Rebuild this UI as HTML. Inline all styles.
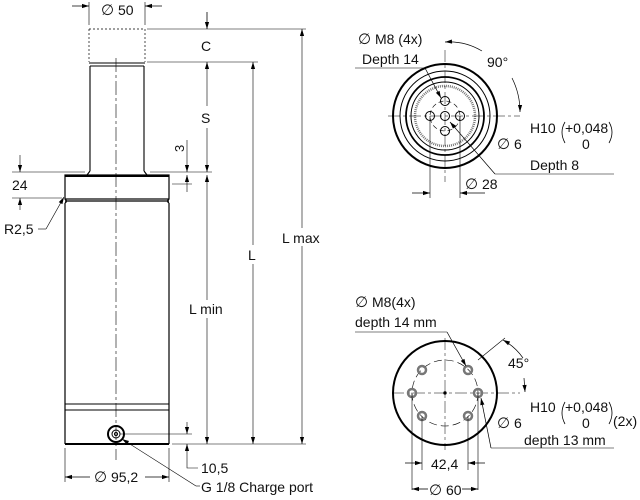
<!DOCTYPE html>
<html><head><style>html,body{margin:0;padding:0;background:#fff}svg{display:block}.d{font-family:"DejaVu Sans",sans-serif;font-size:15px}</style></head><body>
<svg width="640" height="500" viewBox="0 0 640 500" xmlns="http://www.w3.org/2000/svg" font-family="Liberation Sans, sans-serif" font-size="13" fill="#111">
<defs><marker id="a" viewBox="0 0 10 10" refX="10" refY="5" markerWidth="9" markerHeight="7" orient="auto-start-reverse" markerUnits="userSpaceOnUse"><path d="M0,2 L10,5 L0,8z" fill="#000"/></marker></defs>
<g stroke="#000" fill="none" stroke-width="1">
<line x1="116" y1="58" x2="116" y2="460" stroke-width="0.6" stroke-dasharray="14,3,3,3"/>
<path d="M89,29 L89,62 M145,29 L145,62 M89,29 H145" stroke-dasharray="2,2" stroke-width="0.7"/>
<path d="M89,63 H145 M90,66 H144 M90,66 V171 M144,66 V171 M90,171 L87,175 M144,171 L147,175" stroke-width="1.1"/>
<rect x="65" y="175" width="104" height="24" stroke-width="1.2"/>
<line x1="65" y1="176" x2="169" y2="176" stroke-width="2"/>
<path d="M65,199 Q68,201 65,203 M169,199 Q166,201 169,203 M65,201 H169 M65,203 V444 M169,203 V444" stroke-width="1.2"/>
<path d="M65,404 H169 M65,410 H169" stroke-width="0.9"/>
<line x1="65" y1="444" x2="169" y2="444" stroke-width="2"/>
<circle cx="116" cy="434" r="8" stroke-width="2"/><circle cx="116" cy="434" r="4"/><circle cx="116" cy="434" r="1.5"/>
<path d="M89,25 V2 M145,25 V2 M147,29 H306 M147,62 H258 M150,172 H212 M172,444 H306 M172,184 H192 M65,448 V482 M169,448 V482 M120,434 H192" stroke-width="0.6"/>
<line x1="72" y1="6" x2="89" y2="6" marker-end="url(#a)" stroke-width="0.8"/>
<line x1="162" y1="6" x2="145" y2="6" marker-end="url(#a)" stroke-width="0.8"/>
<line x1="207" y1="12" x2="207" y2="29" marker-end="url(#a)" stroke-width="0.8"/>
<line x1="207" y1="62" x2="207" y2="106" marker-start="url(#a)" stroke-width="0.6"/>
<line x1="207" y1="128" x2="207" y2="172" marker-end="url(#a)" stroke-width="0.6"/>
<line x1="207" y1="175" x2="207" y2="300" marker-start="url(#a)" stroke-width="0.6"/>
<line x1="207" y1="318" x2="207" y2="444" marker-end="url(#a)" stroke-width="0.6"/>
<line x1="253" y1="62" x2="253" y2="245" marker-start="url(#a)" stroke-width="0.6"/>
<line x1="253" y1="264" x2="253" y2="444" marker-end="url(#a)" stroke-width="0.6"/>
<line x1="302" y1="29" x2="302" y2="228" marker-start="url(#a)" stroke-width="0.6"/>
<line x1="302" y1="246" x2="302" y2="444" marker-end="url(#a)" stroke-width="0.6"/>
<line x1="187" y1="140" x2="187" y2="172" marker-end="url(#a)" stroke-width="0.6"/>
<line x1="187" y1="192" x2="187" y2="175" marker-end="url(#a)" stroke-width="0.6"/>
<line x1="187" y1="422" x2="187" y2="434" marker-end="url(#a)" stroke-width="0.6"/>
<line x1="187" y1="458" x2="187" y2="444" marker-end="url(#a)" stroke-width="0.6"/>
<path d="M187,458 V468 H198" stroke-width="0.6"/>
<line x1="20" y1="155" x2="20" y2="172" marker-end="url(#a)" stroke-width="0.6"/>
<line x1="20" y1="210" x2="20" y2="198" marker-end="url(#a)" stroke-width="0.6"/>
<path d="M12,172 H85 M12,198 H62" stroke-width="0.6"/>
<path d="M38,229 H46" stroke-width="0.6"/>
<line x1="46" y1="229" x2="64" y2="197" marker-end="url(#a)" stroke-width="0.6"/>
<line x1="90" y1="477" x2="65" y2="477" marker-end="url(#a)" stroke-width="0.8"/>
<line x1="145" y1="477" x2="169" y2="477" marker-end="url(#a)" stroke-width="0.8"/>
<path d="M196,486 H200" stroke-width="0.6"/>
<line x1="196" y1="486" x2="122" y2="439" marker-end="url(#a)" stroke-width="0.6"/>
<circle cx="445" cy="116" r="52" stroke-width="2"/>
<circle cx="445" cy="116" r="45" stroke-width="1"/>
<circle cx="445" cy="116" r="39" stroke-width="1.8"/>
<circle cx="445" cy="116" r="34" stroke-width="1"/>
<circle cx="445" cy="116" r="30" stroke="#777" stroke-width="2.5" stroke-dasharray="1,1"/>
<circle cx="445" cy="116" r="15" stroke-width="0.6" stroke-dasharray="5,3"/>
<circle cx="445" cy="101" r="4.5"/><circle cx="430" cy="116" r="4.5"/><circle cx="460" cy="116" r="4.5"/><circle cx="445" cy="131" r="4.5"/><circle cx="445" cy="116" r="4.5"/>
<path d="M445,50 V182 M388,116 H520" stroke-width="0.5" stroke-dasharray="12,3,3,3"/>
<path d="M430,116 V198 M460,116 V198 M355,68 H425 M495,174 H614" stroke-width="0.6"/>
<line x1="425" y1="68" x2="441" y2="98" marker-end="url(#a)" stroke-width="0.7"/>
<line x1="495" y1="174" x2="450" y2="122" marker-end="url(#a)" stroke-width="0.7"/>
<line x1="412" y1="193" x2="430" y2="193" marker-end="url(#a)" stroke-width="0.7"/>
<line x1="485" y1="193" x2="460" y2="193" marker-end="url(#a)" stroke-width="0.7"/>
<path d="M482,51 A64,64 0 0 0 445,42" marker-end="url(#a)" stroke-width="0.7"/>
<path d="M512,78 A75,75 0 0 1 520,112" marker-end="url(#a)" stroke-width="0.7"/>
<path d="M565,122 Q559,132 565,143 M609,122 Q615,132 609,143" stroke-width="0.8"/>
<circle cx="445" cy="393" r="52" stroke-width="2"/>
<circle cx="445" cy="393" r="33" stroke-width="0.6" stroke-dasharray="8,4"/>
<path d="M445,338 V450 M392,393 H520" stroke-width="0.5" stroke-dasharray="12,3,3,3"/>
<g stroke-width="2.5" stroke="#777"><circle cx="412" cy="393" r="4"/><circle cx="478" cy="393" r="4"/><circle cx="422" cy="370" r="4"/><circle cx="468" cy="370" r="4"/><circle cx="422" cy="416" r="4"/><circle cx="468" cy="416" r="4"/></g>
<circle cx="445" cy="393" r="1.2" fill="#000"/>
<path d="M412,393 V490 M478,393 V490 M422,416 V470 M468,416 V470 M355,332 H447 M491,448 H614 M478,360 L505,338" stroke-width="0.6"/>
<line x1="447" y1="332" x2="466" y2="366" marker-end="url(#a)" stroke-width="0.7"/>
<line x1="491" y1="448" x2="481" y2="398" marker-end="url(#a)" stroke-width="0.7"/>
<line x1="405" y1="463" x2="422" y2="463" marker-end="url(#a)" stroke-width="0.7"/>
<line x1="485" y1="463" x2="468" y2="463" marker-end="url(#a)" stroke-width="0.7"/>
<line x1="428" y1="489" x2="412" y2="489" marker-end="url(#a)" stroke-width="0.8"/>
<line x1="462" y1="489" x2="478" y2="489" marker-end="url(#a)" stroke-width="0.8"/>
<path d="M503,340 A60,60 0 0 1 523,358" marker-start="url(#a)" stroke-width="0.7"/>
<line x1="524" y1="378" x2="525" y2="392" marker-end="url(#a)" stroke-width="0.7"/>
<path d="M565,402 Q559,413 565,424 M609,402 Q615,413 609,424" stroke-width="0.8"/>
</g>
<g font-size="14">
<text x="101" y="15"><tspan class="d">∅</tspan> 50</text>
<text x="201" y="51">C</text>
<text x="201" y="123">S</text>
<text x="184" y="152" transform="rotate(-90 184 152)" font-size="13">3</text>
<text x="12" y="190">24</text>
<text x="4" y="234">R2,5</text>
<text x="248" y="260">L</text>
<text x="282" y="243">L max</text>
<text x="189" y="314">L min</text>
<text x="94" y="482"><tspan class="d">∅</tspan> 95,2</text>
<text x="201" y="473">10,5</text>
<text x="201" y="492">G 1/8 Charge port</text>
<text x="358" y="44"><tspan class="d">∅</tspan> M8 (4x)</text>
<text x="362" y="64">Depth 14</text>
<text x="487" y="67">90°</text>
<text x="530" y="133">H10</text>
<text x="565" y="133">+0,048</text>
<text x="582" y="149">0</text>
<text x="497" y="149"><tspan class="d">∅</tspan> 6</text>
<text x="530" y="170">Depth 8</text>
<text x="465" y="189"><tspan class="d">∅</tspan> 28</text>
<text x="355" y="307"><tspan class="d">∅</tspan> M8(4x)</text>
<text x="355" y="327">depth 14 mm</text>
<text x="508" y="368">45°</text>
<text x="530" y="412">H10</text>
<text x="565" y="412">+0,048</text>
<text x="582" y="428">0</text>
<text x="613" y="426">(2x)</text>
<text x="497" y="428"><tspan class="d">∅</tspan> 6</text>
<text x="524" y="445">depth 13 mm</text>
<text x="431" y="469">42,4</text>
<text x="429" y="495"><tspan class="d">∅</tspan> 60</text>
</g>
</svg>
</body></html>
